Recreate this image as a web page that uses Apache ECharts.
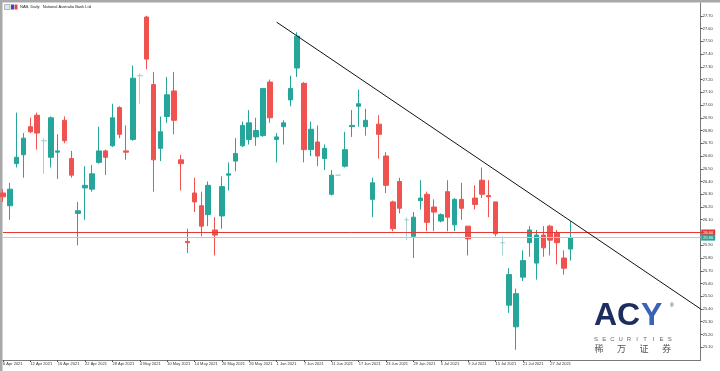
<!DOCTYPE html>
<html>
<head>
<meta charset="utf-8">
<script src="https://cdn.jsdelivr.net/npm/echarts@6/dist/echarts.min.js"></script>
<style>
html,body{margin:0;padding:0;background:#fff;}
#chart{width:720px;height:371px;}
</style>
</head>
<body>
<div id="chart"></div>
<script>
// ---- data (NAB daily) ----
const dates = [
 '6 Apr 2021','7 Apr 2021','8 Apr 2021','9 Apr 2021','12 Apr 2021','13 Apr 2021','14 Apr 2021','15 Apr 2021',
 '16 Apr 2021','19 Apr 2021','20 Apr 2021','21 Apr 2021','22 Apr 2021','23 Apr 2021','26 Apr 2021','27 Apr 2021',
 '28 Apr 2021','29 Apr 2021','30 Apr 2021','3 May 2021','4 May 2021','5 May 2021','6 May 2021','7 May 2021',
 '10 May 2021','11 May 2021','12 May 2021','13 May 2021','14 May 2021','17 May 2021','18 May 2021','19 May 2021',
 '20 May 2021','21 May 2021','24 May 2021','25 May 2021','26 May 2021','27 May 2021','28 May 2021','31 May 2021',
 '1 Jun 2021','2 Jun 2021','3 Jun 2021','4 Jun 2021','7 Jun 2021','8 Jun 2021','9 Jun 2021','10 Jun 2021',
 '11 Jun 2021','14 Jun 2021','15 Jun 2021','16 Jun 2021','17 Jun 2021','18 Jun 2021','21 Jun 2021','22 Jun 2021',
 '23 Jun 2021','24 Jun 2021','25 Jun 2021','28 Jun 2021','29 Jun 2021','30 Jun 2021','1 Jul 2021','2 Jul 2021',
 '5 Jul 2021','6 Jul 2021','7 Jul 2021','8 Jul 2021','9 Jul 2021','12 Jul 2021','13 Jul 2021','14 Jul 2021',
 '15 Jul 2021','16 Jul 2021','19 Jul 2021','20 Jul 2021','21 Jul 2021','22 Jul 2021','23 Jul 2021','26 Jul 2021',
 '27 Jul 2021','28 Jul 2021','29 Jul 2021','30 Jul 2021'
];
const openP = [
 26.31,26.21,26.54,26.61,26.83,26.92,26.72,26.59,26.63,26.88,26.58,26.15,26.35,26.34,26.55,26.64,
 26.68,26.98,26.64,26.73,27.23,27.69,27.16,26.66,26.91,27.11,26.57,25.93,26.31,26.21,26.14,26.02,
 26.13,26.45,26.56,26.68,26.73,26.75,26.76,27.18,26.73,26.83,27.04,27.29,27.17,26.65,26.71,26.58,
 26.30,26.45,26.52,26.83,26.99,26.83,26.26,26.85,26.60,26.24,26.40,26.10,25.97,26.25,26.30,26.20,
 26.09,26.32,26.06,26.26,26.05,26.27,26.41,26.29,26.24,25.92,25.43,25.26,25.65,25.92,25.76,25.98,
 26.05,26.00,25.80,25.87
];
const closeP = [
 26.28,26.34,26.59,26.74,26.79,26.78,26.72,26.90,26.64,26.72,26.45,26.17,26.37,26.46,26.64,26.59,
 26.90,26.77,26.63,27.21,27.23,27.36,26.57,26.79,27.08,26.88,26.54,25.92,26.24,26.05,26.37,25.98,
 26.36,26.46,26.62,26.84,26.86,26.80,27.13,26.90,26.75,26.86,27.13,27.54,26.65,26.81,26.60,26.66,
 26.45,26.45,26.65,26.84,27.01,26.88,26.39,26.77,26.37,26.03,26.19,26.10,26.12,26.27,26.08,26.16,
 26.14,26.12,26.26,26.19,25.95,26.22,26.30,26.28,25.99,25.92,25.67,25.52,25.78,26.02,25.98,25.88,
 25.94,25.92,25.72,25.96
];
const lowP = [
 26.24,26.10,26.51,26.43,26.78,26.65,26.46,26.51,26.42,26.70,26.43,25.90,26.10,26.32,26.54,26.45,
 26.67,26.74,26.57,26.72,27.01,27.28,26.32,26.56,26.86,26.77,26.33,25.84,26.16,25.97,26.05,25.82,
 26.03,26.33,26.48,26.67,26.69,26.68,26.75,26.86,26.55,26.69,26.99,27.22,26.55,26.60,26.52,26.49,
 26.29,26.45,26.51,26.75,26.83,26.76,26.12,26.58,26.31,26.01,26.15,25.94,25.80,26.18,26.01,26.01,
 26.08,26.01,26.01,26.10,25.82,26.18,26.27,26.12,25.97,25.82,25.37,25.08,25.62,25.81,25.63,25.81,
 25.82,25.75,25.67,25.78
];
const highP = [
 26.34,26.39,26.94,26.78,26.90,26.94,26.74,26.91,26.77,26.91,26.64,26.24,26.52,26.53,26.83,26.65,
 27.01,26.99,26.84,27.31,27.25,27.70,27.26,26.91,27.22,27.26,26.61,26.03,26.43,26.32,26.40,26.12,
 26.44,26.55,26.74,26.87,26.96,26.90,27.13,27.20,26.78,26.88,27.23,27.57,27.18,26.87,26.84,26.69,
 26.49,26.45,26.79,26.96,27.12,26.97,26.43,26.92,26.63,26.25,26.43,26.12,26.16,26.41,26.32,26.26,
 26.15,26.41,26.27,26.39,26.05,26.37,26.51,26.41,26.24,25.97,25.72,25.56,25.86,26.05,26.02,26.05,
 26.06,26.02,25.86,26.09
];
const futureSlots = 19;                 // empty bars to the right of the last candle
const priceMin = 25.0, priceMax = 27.8, priceStep = 0.1;
const askPrice = 26.00, bidPrice = 25.96;
const trendLine = [['1 Jun 2021', 27.65], ['+19', 25.40]];
const titleText = 'NAB, Daily:  National Australia Bank Ltd';

// ---- chart ----
const cats = dates.concat(Array.from({length: futureSlots}, (_, k) => '+' + (k + 1)));
const nReal = dates.length;
const showIdx = (i) => i < nReal && i % 4 === 0;
const FONT = 'Liberation Sans';

const chart = echarts.init(document.getElementById('chart'), null, {renderer: 'canvas'});

const letters = 'SECURITIES'.split('');
const cjk = ['稀', '万', '证', '券'];

chart.setOption({
  animation: false,
  backgroundColor: '#ffffff',
  grid: {left: 3, top: 3, right: 19.3, bottom: 11, containLabel: false},
  xAxis: {
    type: 'category', data: cats, boundaryGap: false,
    axisLine: {show: true, lineStyle: {color: '#7a7a7a', width: 1}},
    axisTick: {show: true, interval: (i) => showIdx(i), length: 2, lineStyle: {color: '#555'}},
    axisLabel: {interval: (i) => showIdx(i), align: 'left', fontSize: 4, fontFamily: FONT, color: '#333', margin: 2,
      formatter: (v, i) => (i < nReal ? v : '')},
    splitLine: {show: false}
  },
  yAxis: {
    type: 'value', position: 'right', min: priceMin, max: priceMax, interval: priceStep,
    axisLine: {show: true, lineStyle: {color: '#7a7a7a', width: 1}},
    axisTick: {show: true, length: 2, lineStyle: {color: '#555'}},
    axisLabel: {fontSize: 4, fontFamily: FONT, color: '#333', margin: 2, showMinLabel: false, showMaxLabel: false,
      formatter: (v) => v.toFixed(2)},
    splitLine: {show: false}
  },
  series: [{
    type: 'candlestick',
    data: dates.map((d, i) => [openP[i], closeP[i], lowP[i], highP[i]]),
    barWidth: 5,
    itemStyle: {
      color: '#26a69a', color0: '#ef5350',
      borderColor: '#26a69a', borderColor0: '#ef5350',
      borderColorDoji: '#a9d3ce', borderWidth: 1
    },
    markLine: {
      symbol: 'none', silent: true, animation: false, precision: 2,
      data: [
        {yAxis: askPrice, lineStyle: {color: '#e53935', width: 1, type: 'solid'},
          label: {show: true, position: 'end', distance: 0.5, formatter: askPrice.toFixed(2), color: '#fff',
            backgroundColor: '#e53935', fontSize: 4, fontFamily: FONT, padding: [1, 2]}},
        {yAxis: bidPrice, lineStyle: {color: '#a6d8d2', width: 1, type: 'solid'},
          label: {show: true, position: 'end', distance: 0.5, formatter: bidPrice.toFixed(2), color: '#fff',
            backgroundColor: '#26a69a', fontSize: 4, fontFamily: FONT, padding: [1, 2]}},
        [
          {coord: trendLine[0], lineStyle: {color: '#111', width: 1, type: 'solid'}, label: {show: false}},
          {coord: trendLine[1]}
        ]
      ]
    }
  }],
  graphic: [
    {type: 'rect', shape: {x: 0, y: 0, width: 720, height: 2.5}, style: {fill: '#a8a8a8'}, silent: true},
    {type: 'rect', shape: {x: 0, y: 0, width: 2.5, height: 371}, style: {fill: '#a8a8a8'}, silent: true},
    {type: 'rect', shape: {x: 4.5, y: 4.5, width: 5.5, height: 5}, style: {fill: '#e4e4f0', stroke: '#8a8aa8', lineWidth: 0.6}},
    {type: 'rect', shape: {x: 11, y: 4.5, width: 3, height: 5}, style: {fill: '#2f4fc0'}},
    {type: 'rect', shape: {x: 14.5, y: 4.5, width: 3, height: 5}, style: {fill: '#e04848'}},
    {type: 'text', x: 20, y: 7.2, style: {text: titleText, fontSize: 4, fontFamily: FONT, fill: '#222', textVerticalAlign: 'middle'}},
    {type: 'text', x: 594, y: 332, style: {text: 'AC', fontSize: 32, fontWeight: 'bold', fontFamily: FONT, fill: '#1d2d5e', textVerticalAlign: 'bottom'}},
    {type: 'text', x: 641, y: 332, style: {text: 'Y', fontSize: 32, fontWeight: 'bold', fontFamily: FONT, fill: '#3a62b8', textVerticalAlign: 'bottom'}},
    {type: 'text', x: 670, y: 306, style: {text: '®', fontSize: 5, fontFamily: FONT, fill: '#1d2d5e', textVerticalAlign: 'middle'}}
  ].concat(letters.map((ch, k) => ({
    type: 'text', x: 596 + k * 8.2, y: 339, style: {text: ch, fontSize: 6, fontFamily: FONT, fill: '#666', textAlign: 'center', textVerticalAlign: 'middle'}
  }))).concat(cjk.map((ch, k) => ({
    type: 'text', x: 599 + k * 22.5, y: 348.5, style: {text: ch, fontSize: 9, fontFamily: 'Noto Sans CJK SC', fill: '#555', textAlign: 'center', textVerticalAlign: 'middle'}
  })))
});
</script>
</body>
</html>
